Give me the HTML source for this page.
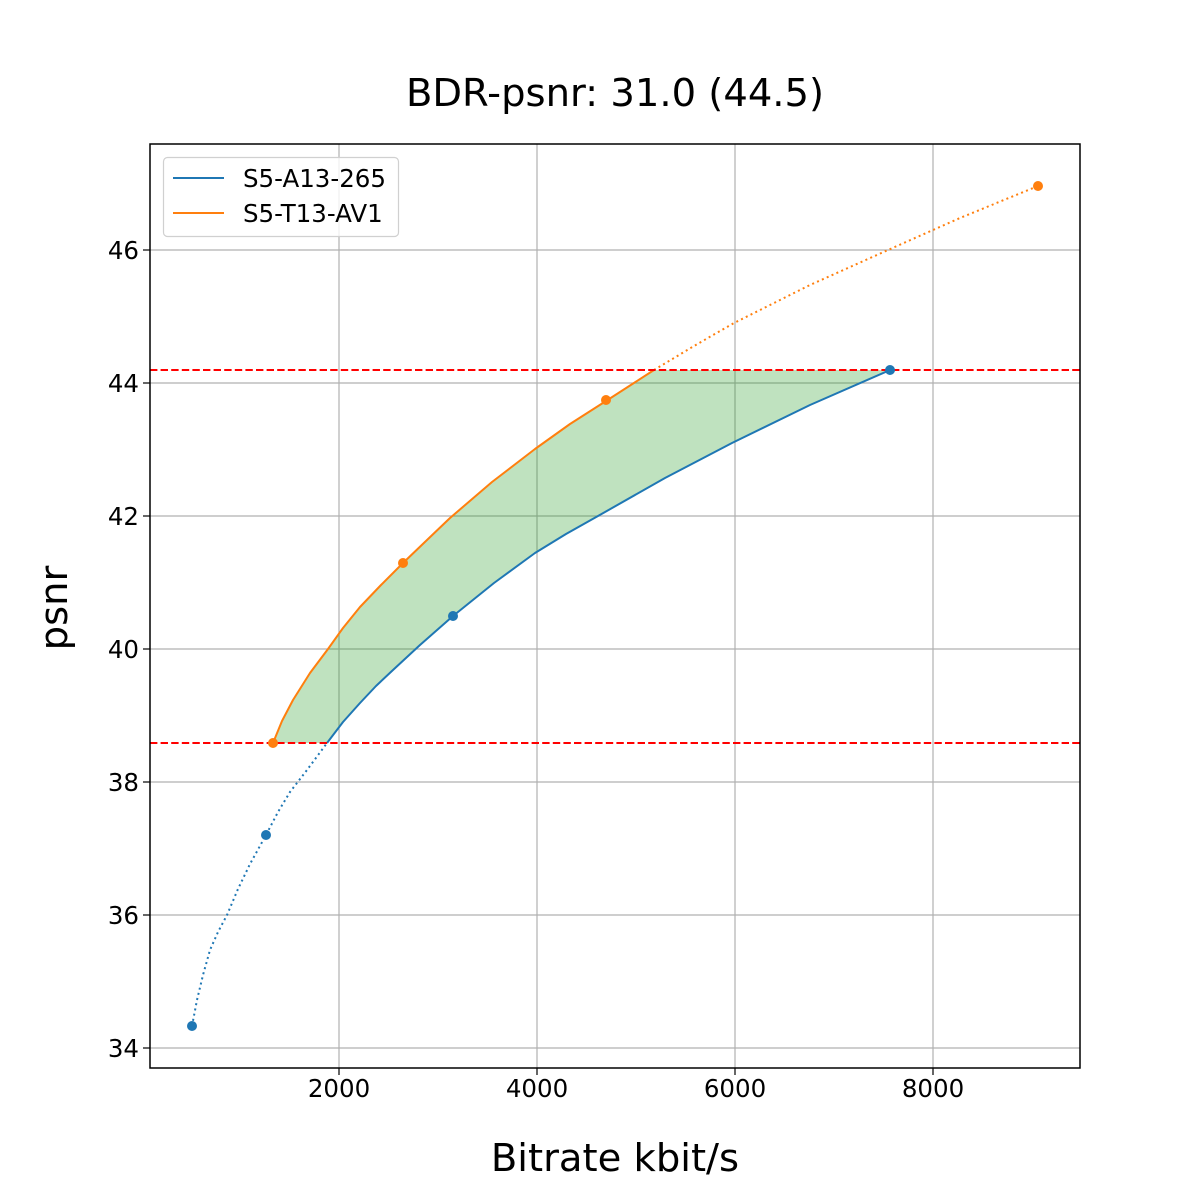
<!DOCTYPE html>
<html><head><meta charset="utf-8"><style>
html,body{margin:0;padding:0;background:#fff}
svg{display:block}
text{font-family:"DejaVu Sans","Liberation Sans",sans-serif;fill:#000}
</style></head><body>
<svg width="1200" height="1200" viewBox="0 0 1200 1200" xmlns="http://www.w3.org/2000/svg">
<rect width="1200" height="1200" fill="#fff"/>
<g stroke="#b0b0b0" stroke-width="1.2">
<line x1="339" y1="144" x2="339" y2="1068"/>
<line x1="537" y1="144" x2="537" y2="1068"/>
<line x1="735" y1="144" x2="735" y2="1068"/>
<line x1="933" y1="144" x2="933" y2="1068"/>
<line x1="150" y1="1048" x2="1080" y2="1048"/>
<line x1="150" y1="915" x2="1080" y2="915"/>
<line x1="150" y1="782" x2="1080" y2="782"/>
<line x1="150" y1="649" x2="1080" y2="649"/>
<line x1="150" y1="516" x2="1080" y2="516"/>
<line x1="150" y1="383" x2="1080" y2="383"/>
<line x1="150" y1="250" x2="1080" y2="250"/>
</g>
<polygon fill="#2ca02c" fill-opacity="0.3" points="273,743 282,721 293,700 310,673 328,649 343,628 360,607 381,585 403,563 427,540 450,518 492,482 535,449 570,424 606,401 654,370 890,370 810,405 732,443 665,478 598,516 566,534 535,553 494,583 453,616 420,645 393,670 376,686 360,703 343,722 327,743"/>
<polyline fill="none" stroke="#1f77b4" stroke-width="2" stroke-dasharray="2,3.3" points="192,1026 197,1000 203,975 210,950 218,932 227,915 238,889 250,864 266,835 278,812 290,792 307,770 327,743"/>
<polyline fill="none" stroke="#1f77b4" stroke-width="2" stroke-linejoin="round" points="327,743 343,722 360,703 376,686 393,670 420,645 453,616 494,583 535,553 566,534 598,516 665,478 732,443 810,405 890,370"/>
<polyline fill="none" stroke="#ff7f0e" stroke-width="2" stroke-linejoin="round" points="273,743 282,721 293,700 310,673 328,649 343,628 360,607 381,585 403,563 427,540 450,518 492,482 535,449 570,424 606,401 654,370"/>
<polyline fill="none" stroke="#ff7f0e" stroke-width="2" stroke-dasharray="2,3.3" points="654,370 694,346 734,323 810,285 888,250 960,218 1038,186"/>
<g stroke="#ff0000" stroke-width="2" stroke-dasharray="7.4,3.2">
<line x1="150" y1="370" x2="1080" y2="370"/>
<line x1="150" y1="743" x2="1080" y2="743"/>
</g>
<g fill="#1f77b4"><circle cx="192" cy="1026" r="5"/><circle cx="266" cy="835" r="5"/><circle cx="453" cy="616" r="5"/><circle cx="890" cy="370" r="5"/></g>
<g fill="#ff7f0e"><circle cx="273" cy="743" r="5"/><circle cx="403" cy="563" r="5"/><circle cx="606" cy="400" r="5"/><circle cx="1038" cy="186" r="5"/></g>
<rect x="150" y="144" width="930" height="924" fill="none" stroke="#000" stroke-width="1.5"/>
<g stroke="#000" stroke-width="1.2">
<line x1="339" y1="1068" x2="339" y2="1075"/><line x1="537" y1="1068" x2="537" y2="1075"/><line x1="735" y1="1068" x2="735" y2="1075"/><line x1="933" y1="1068" x2="933" y2="1075"/>
<line x1="143" y1="1048" x2="150" y2="1048"/><line x1="143" y1="915" x2="150" y2="915"/><line x1="143" y1="782" x2="150" y2="782"/><line x1="143" y1="649" x2="150" y2="649"/><line x1="143" y1="516" x2="150" y2="516"/><line x1="143" y1="383" x2="150" y2="383"/><line x1="143" y1="250" x2="150" y2="250"/>
</g>
<g font-size="24.5" text-anchor="middle">
<text x="339" y="1097">2000</text><text x="537" y="1097">4000</text><text x="735" y="1097">6000</text><text x="933" y="1097">8000</text>
</g>
<g font-size="24.5" text-anchor="end">
<text x="139" y="1057">34</text><text x="139" y="924">36</text><text x="139" y="791">38</text><text x="139" y="658">40</text><text x="139" y="525">42</text><text x="139" y="392">44</text><text x="139" y="259">46</text>
</g>
<text x="615" y="106" font-size="38.5" text-anchor="middle">BDR-psnr: 31.0 (44.5)</text>
<text x="615" y="1171" font-size="38.5" text-anchor="middle">Bitrate kbit/s</text>
<text transform="translate(67,608) rotate(-90)" font-size="38.5" text-anchor="middle">psnr</text>
<rect x="163.5" y="157.5" width="235" height="79" rx="4" fill="#fff" fill-opacity="0.8" stroke="#d0d0d0" stroke-width="1.2"/>
<line x1="173" y1="178" x2="224" y2="178" stroke="#1f77b4" stroke-width="2"/>
<line x1="173" y1="213" x2="224" y2="213" stroke="#ff7f0e" stroke-width="2"/>
<text x="243" y="187" font-size="24.5">S5-A13-265</text>
<text x="243" y="222" font-size="24.5">S5-T13-AV1</text>
</svg>
</body></html>
